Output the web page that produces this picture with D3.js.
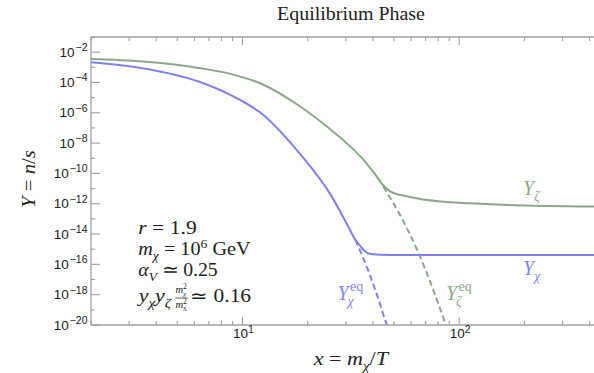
<!DOCTYPE html>
<html><head><meta charset="utf-8">
<script src="https://cdn.jsdelivr.net/npm/d3@7"></script>
<style>body{margin:0;background:#fff} svg{display:block}</style>
</head><body><svg id="c" width="594" height="373"></svg>
<script>
// ---- data (x = m_chi/T, Y = n/s) ----
const xZeta    = [2.0, 3.46, 6.27, 8.8, 12.5, 17.9, 25.5, 30.0, 36.2, 40.5, 44.7, 48.2, 57.7, 82.0, 112.7, 167, 421];
const yZeta    = [3.5e-3, 2.4e-3, 9.1e-4, 3.7e-4, 7.1e-5, 3.5e-6, 7.9e-8, 1.1e-8, 7.9e-10, 1.07e-10, 1.6e-11, 6.3e-12, 3.0e-12, 1.4e-12, 1.07e-12, 8.3e-13, 6.5e-13];
const xChi     = [2.0, 3.46, 6.27, 8.8, 12.5, 17.9, 20.6, 25.5, 30.5, 33.2, 35.0, 36.2, 39.0, 48.2, 421];
const yChi     = [2.2e-3, 8.7e-4, 1.15e-4, 1.5e-5, 7.1e-7, 3.2e-9, 2.8e-10, 4.0e-12, 4.0e-14, 4.1e-15, 1.6e-15, 8.9e-16, 4.9e-16, 4.2e-16, 4.2e-16];
const xChiEq   = [33.2, 36.2, 39.0, 43.3, 45.7, 46.5];
const yChiEq   = [4.1e-15, 2.3e-16, 1.55e-17, 2.0e-19, 1.8e-20, 9.0e-21];
const xZetaEq  = [44.7, 53.6, 64.0, 73.7, 86.5, 89.0];
const yZetaEq  = [1.35e-11, 1.6e-13, 8.9e-16, 6.3e-18, 1.1e-20, 3.2e-21];
const xMajor   = [10, 100];
const xMinor   = [2,3,4,5,6,7,8,9,20,30,40,50,60,70,80,90,200,300,400,500];
const yMajorExp = [-20,-18,-16,-14,-12,-10,-8,-6,-4,-2];
const yMinorExp = [-19,-17,-15,-13,-11,-9,-7,-5,-3,-1];
const xTickLabels = ["1", "2"];

const BLUE = "#8181f7", GREEN = "#8da789", AXIS = "#a0a0a0";
const SERIF = "'Liberation Serif','Times New Roman',serif";
const SANS = "'Liberation Sans',Arial,sans-serif";

const svg = d3.select("#c");
const L = 91, T = 37, B = 325;
const x = d3.scaleLog().domain([2, 500]).range([L, L + 216.7 * Math.log10(250)]);
const y = d3.scaleLog().domain([1e-20, 1e-1]).range([B, T]);

svg.append("defs").append("clipPath").attr("id", "clip")
  .append("rect").attr("x", L).attr("y", T).attr("width", 600).attr("height", B - T);

// frame
const fr = svg.append("g").attr("stroke", AXIS).attr("stroke-width", 1.3).attr("fill", "none");
fr.append("line").attr("x1", L).attr("x2", 600).attr("y1", T).attr("y2", T);
fr.append("line").attr("x1", L).attr("x2", 600).attr("y1", B).attr("y2", B);
fr.append("line").attr("x1", L).attr("x2", L).attr("y1", T).attr("y2", B);

// ticks
const tk = svg.append("g").attr("stroke", AXIS).attr("stroke-width", 1.1);
xMajor.forEach(v => {
  tk.append("line").attr("x1", x(v)).attr("x2", x(v)).attr("y1", B).attr("y2", B - 8);
  tk.append("line").attr("x1", x(v)).attr("x2", x(v)).attr("y1", T).attr("y2", T + 8);
});
xMinor.forEach(v => {
  tk.append("line").attr("x1", x(v)).attr("x2", x(v)).attr("y1", B).attr("y2", B - 4);
  tk.append("line").attr("x1", x(v)).attr("x2", x(v)).attr("y1", T).attr("y2", T + 4);
});
yMajorExp.forEach(e => tk.append("line").attr("x1", L).attr("x2", L + 9).attr("y1", y(Math.pow(10, e))).attr("y2", y(Math.pow(10, e))));
yMinorExp.forEach(e => tk.append("line").attr("x1", L).attr("x2", L + 4).attr("y1", y(Math.pow(10, e))).attr("y2", y(Math.pow(10, e))));

// tick labels
yMajorExp.forEach(e => {
  const t = svg.append("text").attr("x", 87.5).attr("y", y(Math.pow(10, e)) + 4.5)
    .attr("text-anchor", "end").attr("font-family", SANS).attr("font-size", 13.5).attr("fill", "#222");
  t.append("tspan").text("10");
  t.append("tspan").attr("font-size", 10.5).attr("dx", 1).attr("dy", -5.5).text("\u2212" + Math.abs(e));
});
xMajor.forEach((v, i) => {
  const t = svg.append("text").attr("x", x(v) + 1).attr("y", 338)
    .attr("text-anchor", "middle").attr("font-family", SANS).attr("font-size", 13.5).attr("fill", "#222");
  t.append("tspan").text("10");
  t.append("tspan").attr("font-size", 10.5).attr("dy", -5.5).text(xTickLabels[i]);
});

// curves
const line = d3.line().x(d => x(d[0])).y(d => y(d[1])).curve(d3.curveMonotoneX);
const plot = svg.append("g").attr("clip-path", "url(#clip)").attr("fill", "none").attr("stroke-width", 2);
plot.append("path").attr("d", line(xZetaEq.map((v, i) => [v, yZetaEq[i]]))).attr("stroke", GREEN).attr("stroke-dasharray", "6,3.5");
plot.append("path").attr("d", line(xChiEq.map((v, i) => [v, yChiEq[i]]))).attr("stroke", BLUE).attr("stroke-dasharray", "6,3.5");
plot.append("path").attr("d", line(xZeta.map((v, i) => [v, yZeta[i]]))).attr("stroke", GREEN);
plot.append("path").attr("d", line(xChi.map((v, i) => [v, yChi[i]]))).attr("stroke", BLUE);

// rich text helper
function rich(px, py, parts, size, color, anchor, g) {
  const t = (g || svg).append("text").attr("x", px).attr("y", py).attr("font-family", SERIF)
    .attr("font-size", size).attr("fill", color).attr("text-anchor", anchor || "start");
  let cur = 0;
  parts.forEach(p => {
    const shift = p.s === "sub" ? size * 0.28 : p.s === "sup" ? -size * 0.4 : 0;
    const ts = t.append("tspan").attr("dy", shift - cur).text(p.t);
    if (p.dx) ts.attr("dx", p.dx);
    if (p.s) ts.attr("font-size", size * 0.68);
    if (p.i) ts.attr("font-style", "italic");
    cur = shift;
  });
  return t;
}
// stretch a text horizontally so that it spans the width seen in the reference
function fitW(sel, target, anchor) {
  const bb = sel.node().getBBox();
  const s = target / bb.width;
  const ax = anchor === "start" ? bb.x : anchor === "end" ? bb.x + bb.width : bb.x + bb.width / 2;
  sel.attr("transform", `translate(${ax},0) scale(${s},1) translate(${-ax},0)`);
}

// title & axis labels
const title = svg.append("text").attr("x", 351).attr("y", 20).attr("text-anchor", "middle")
  .attr("font-family", SERIF).attr("font-size", 18).attr("fill", "#222").text("Equilibrium Phase");
fitW(title, 148, "middle");
const xl = rich(351, 365, [{t:"x", i:1},{t:" = "},{t:"m", i:1},{t:"\u03c7", i:1, s:"sub"},{t:"/"},{t:"T", i:1}], 18, "#222", "middle");
fitW(xl, 78, "middle");
const yg = svg.append("g").attr("transform", "translate(35,179) rotate(-90)");
const ylab = rich(0, 0, [{t:"Y", i:1},{t:" = "},{t:"n", i:1},{t:"/"},{t:"s", i:1}], 18, "#222", "middle", yg);
fitW(ylab, 58, "middle");

// annotation
const AC = "#222", AS = 18.5;
fitW(rich(138.3, 234, [{t:"r", i:1},{t:" = 1.9"}], AS, AC), 58.4, "start");
fitW(rich(138.3, 255, [{t:"m", i:1},{t:"\u03c7", i:1, s:"sub"},{t:" = 10"},{t:"6", s:"sup"},{t:" GeV"}], AS, AC), 113, "start");
fitW(rich(138.3, 276, [{t:"\u03b1", i:1},{t:"V", i:1, s:"sub"},{t:" \u2243 0.25"}], AS, AC), 80, "start");
fitW(rich(138.3, 302, [{t:"y", i:1},{t:"\u03c7", i:1, s:"sub"},{t:"y", i:1},{t:"\u03b6", i:1, s:"sub"}], AS, AC), 35.5, "start");
rich(175.5, 293, [{t:"m", i:1},{t:"\u03c7", i:1, s:"sub"}], 10.5, AC);
svg.append("text").attr("x", 183).attr("y", 289).attr("font-family", SERIF).attr("font-size", 7.5).attr("fill", AC).text("2");
svg.append("line").attr("x1", 175).attr("x2", 188).attr("y1", 298).attr("y2", 298).attr("stroke", AC).attr("stroke-width", 0.7);
rich(175.5, 308, [{t:"m", i:1},{t:"S", i:1, s:"sub"}], 10.5, AC);
svg.append("text").attr("x", 183).attr("y", 304).attr("font-family", SERIF).attr("font-size", 7.5).attr("fill", AC).text("2");
fitW(rich(190, 302, [{t:"\u2243 0.16"}], AS, AC), 61.5, "start");

// curve labels
rich(523, 195, [{t:"Y", i:1},{t:"\u03b6", i:1, s:"sub"}], 20, GREEN);
rich(523, 275, [{t:"Y", i:1},{t:"\u03c7", i:1, s:"sub"}], 20, BLUE);
function eqLabel(px, py, sub, color) {
  svg.append("text").attr("x", px).attr("y", py).attr("font-family", SERIF).attr("font-style", "italic")
    .attr("font-size", 20).attr("fill", color).text("Y");
  svg.append("text").attr("x", px + 12.5).attr("y", py - 9).attr("font-family", SERIF)
    .attr("font-size", 14).attr("fill", color).text("eq");
  svg.append("text").attr("x", px + 10).attr("y", py + 5.5).attr("font-family", SERIF).attr("font-style", "italic")
    .attr("font-size", 14).attr("fill", color).text(sub);
}
eqLabel(337.5, 300, "\u03c7", BLUE);
eqLabel(446, 300, "\u03b6", GREEN);
</script></body></html>
